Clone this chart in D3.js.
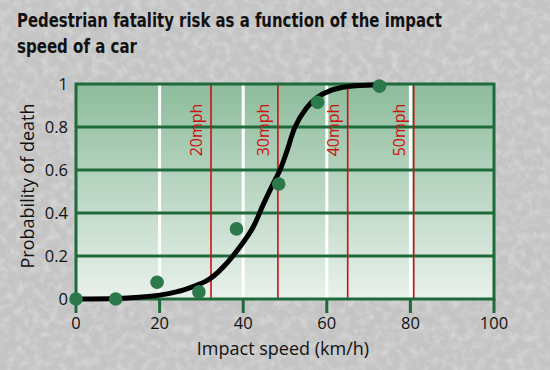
<!DOCTYPE html>
<html>
<head>
<meta charset="utf-8">
<script src="https://cdn.jsdelivr.net/npm/d3@7"></script>
<style>
  body { margin: 0; background: #c9c9c9; }
  svg { display: block; }
</style>
</head>
<body>
<div id="chart"></div>
<script>
// chart data
var title_lines = ["Pedestrian fatality risk as a function of the impact", "speed of a car"];
var x_ticks = [0, 20, 40, 60, 80, 100];
var y_ticks = [0, 0.2, 0.4, 0.6, 0.8, 1];
var y_tick_labels = ["0", "0.2", "0.4", "0.6", "0.8", "1"];

// observed fatality rates (km/h, probability)
var obs_speed = [0, 9.5, 19.4, 29.4, 38.4, 48.5, 57.8, 72.6];
var obs_prob  = [0, 0, 0.078, 0.033, 0.326, 0.535, 0.915, 0.99];

// fitted curve
var fit_speed = [0, 10, 15, 20, 24, 28, 31, 33, 36, 39.5, 42.4, 44.8, 47, 48.8, 50.5, 52.4, 55, 57.5, 61, 65, 72];
var fit_prob  = [0, 0.002, 0.008, 0.018, 0.033, 0.058, 0.082, 0.108, 0.165, 0.25, 0.335, 0.44, 0.53, 0.6, 0.69, 0.8, 0.885, 0.935, 0.97, 0.988, 0.997];

// speed limits in mph and where they sit in km/h
var limit_labels = ["20mph", "30mph", "40mph", "50mph"];
var limit_kmh = [32.3, 48.3, 65.0, 80.8];

var width = 550, height = 370;
var x0 = 76, x1 = 494, yTop = 84, yBot = 299;
var green_dark = "#1f6a3b", green_dot = "#2c7a4b", red_line = "#cc1111";
var font = "'Open Sans', sans-serif";

var svg = d3.select("#chart").append("svg")
  .attr("width", width)
  .attr("height", height);

var defs = svg.append("defs");

// granite-ish background
var f = defs.append("filter").attr("id", "grain")
  .attr("x", 0).attr("y", 0).attr("width", "100%").attr("height", "100%");
f.append("feTurbulence").attr("type", "fractalNoise")
  .attr("baseFrequency", 0.12).attr("numOctaves", 4).attr("seed", 7).attr("result", "n");
f.append("feColorMatrix").attr("type", "matrix")
  .attr("values", "0 0 0 0 1  0 0 0 0 1  0 0 0 0 1  1.1 0 0 0 -0.45");

var grad = defs.append("linearGradient").attr("id", "plotbg")
  .attr("x1", 0).attr("y1", 0).attr("x2", 0).attr("y2", 1);
grad.append("stop").attr("offset", "0%").attr("stop-color", "#8dbc9c");
grad.append("stop").attr("offset", "100%").attr("stop-color", "#e9f1eb");

svg.append("rect").attr("width", width).attr("height", height).attr("fill", "#c4c4c4");
svg.append("rect").attr("width", width).attr("height", height).attr("filter", "url(#grain)").attr("opacity", 0.6);

// title
svg.append("g").selectAll("text")
  .data(title_lines).enter()
  .append("text")
  .attr("x", 17)
  .attr("y", function (d, i) { return 27 + i * 26; })
  .attr("font-family", "'Liberation Sans Narrow', 'DejaVu Sans Condensed', sans-serif")
  .attr("font-weight", "bold")
  .attr("font-size", 20)
  .attr("fill", "#111")
  .attr("textLength", function (d, i) { return i == 0 ? 425 : 120; })
  .attr("lengthAdjust", "spacingAndGlyphs")
  .text(function (d) { return d; });

var x = d3.scaleLinear().domain([0, 100]).range([x0, x1]);
var y = d3.scaleLinear().domain([0, 1]).range([yBot, yTop]);

// plot panel
svg.append("rect")
  .attr("x", x0).attr("y", yTop)
  .attr("width", x1 - x0).attr("height", yBot - yTop)
  .attr("fill", "url(#plotbg)");

// white vertical grid
svg.append("g").selectAll("line")
  .data(x_ticks.slice(1, -1)).enter()
  .append("line")
  .attr("x1", function (d) { return x(d); })
  .attr("x2", function (d) { return x(d); })
  .attr("y1", yTop).attr("y2", yBot)
  .attr("stroke", "#fff").attr("stroke-width", 3);

// green horizontal grid
svg.append("g").selectAll("line")
  .data(y_ticks.slice(1, -1)).enter()
  .append("line")
  .attr("x1", x0).attr("x2", x1)
  .attr("y1", function (d) { return y(d); })
  .attr("y2", function (d) { return y(d); })
  .attr("stroke", green_dark).attr("stroke-width", 3);

// speed limit lines + labels
var lim = svg.append("g");
lim.selectAll("line")
  .data(limit_kmh).enter()
  .append("line")
  .attr("x1", function (d) { return x(d); })
  .attr("x2", function (d) { return x(d); })
  .attr("y1", yTop).attr("y2", yBot)
  .attr("stroke", red_line).attr("stroke-width", 1.6);
lim.selectAll("text")
  .data(limit_labels).enter()
  .append("text")
  .attr("transform", function (d, i) {
    return "translate(" + (x(limit_kmh[i]) - 9) + "," + 130 + ") rotate(-90)";
  })
  .attr("text-anchor", "middle")
  .attr("font-family", font)
  .attr("font-size", 16)
  .attr("fill", red_line)
  .text(function (d) { return d; });

// border
svg.append("rect")
  .attr("x", x0).attr("y", yTop)
  .attr("width", x1 - x0).attr("height", yBot - yTop)
  .attr("fill", "none")
  .attr("stroke", green_dark).attr("stroke-width", 3);

// x ticks
svg.append("g").selectAll("line")
  .data(x_ticks).enter()
  .append("line")
  .attr("x1", function (d) { return x(d); })
  .attr("x2", function (d) { return x(d); })
  .attr("y1", yBot).attr("y2", yBot + 14)
  .attr("stroke", green_dark).attr("stroke-width", 3);

// tick labels
svg.append("g").selectAll("text")
  .data(x_ticks).enter()
  .append("text")
  .attr("x", function (d) { return x(d); })
  .attr("y", 329)
  .attr("text-anchor", "middle")
  .attr("font-family", font)
  .attr("font-size", 16.5)
  .attr("fill", "#111")
  .text(function (d) { return d; });

svg.append("g").selectAll("text")
  .data(y_ticks).enter()
  .append("text")
  .attr("x", 68)
  .attr("y", function (d) { return y(d) + 6; })
  .attr("text-anchor", "end")
  .attr("font-family", font)
  .attr("font-size", 16.5)
  .attr("fill", "#111")
  .text(function (d, i) { return y_tick_labels[i]; });

// axis titles
svg.append("text")
  .attr("x", x(50) - 2).attr("y", 355)
  .attr("text-anchor", "middle")
  .attr("font-family", font)
  .attr("font-size", 18)
  .attr("fill", "#111")
  .text("Impact speed (km/h)");

svg.append("text")
  .attr("transform", "translate(34,186) rotate(-90)")
  .attr("text-anchor", "middle")
  .attr("font-family", font)
  .attr("font-size", 18)
  .attr("fill", "#111")
  .text("Probability of death");

// fitted curve
var line = d3.line()
  .x(function (d) { return x(d[0]); })
  .y(function (d) { return y(d[1]); })
  .curve(d3.curveCatmullRom);

svg.append("path")
  .datum(d3.zip(fit_speed, fit_prob))
  .attr("d", line)
  .attr("fill", "none")
  .attr("stroke", "#000")
  .attr("stroke-width", 5)
  .attr("stroke-linecap", "round");

// observations
svg.append("g").selectAll("circle")
  .data(d3.zip(obs_speed, obs_prob)).enter()
  .append("circle")
  .attr("cx", function (d) { return x(d[0]); })
  .attr("cy", function (d) { return y(d[1]); })
  .attr("r", 6.8)
  .attr("fill", green_dot);
</script>
</body>
</html>
